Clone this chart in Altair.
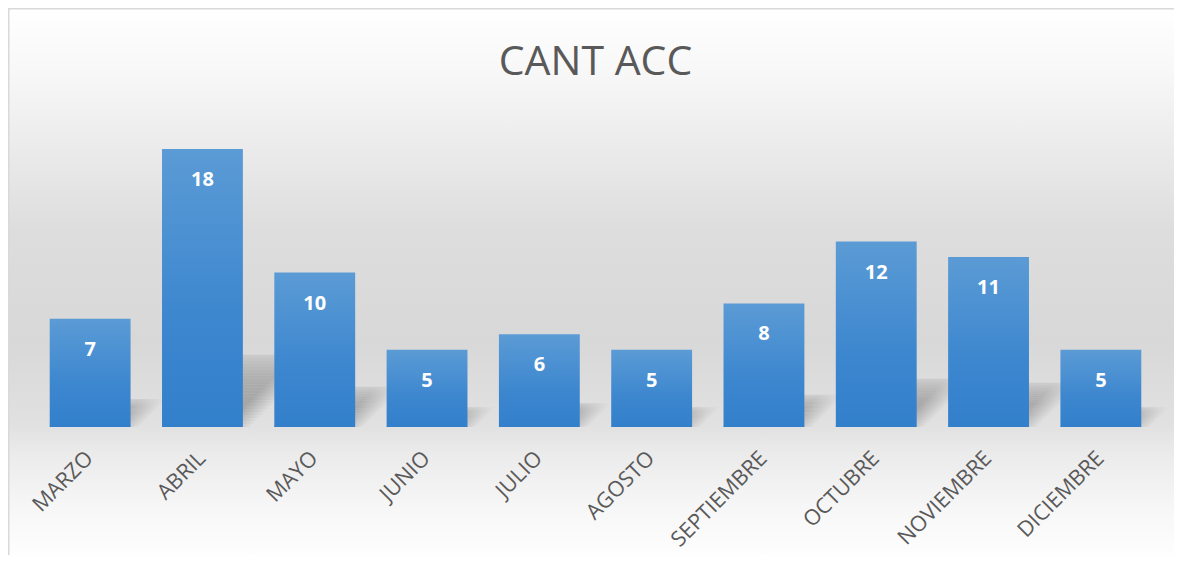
import altair as alt
import pandas as pd

months = ["MARZO", "ABRIL", "MAYO", "JUNIO", "JULIO", "AGOSTO",
          "SEPTIEMBRE", "OCTUBRE", "NOVIEMBRE", "DICIEMBRE"]
values = [7, 18, 10, 5, 6, 5, 8, 12, 11, 5]
title_text = ["CANT ACC"]
shadow_slices = list(range(24))

df = pd.DataFrame({"mes": months, "cant": values})
sh = pd.DataFrame(
    [(m, k, v, i) for k, (m, v) in enumerate(zip(months, values)) for i in shadow_slices],
    columns=["mes", "idx", "cant", "i"],
)

W, H = 1123, 309
L, T, R, B = 26, 110, 17, 128
YMAX = 20
NCAT = len(months)
PAD_IN, PAD_OUT = 0.28, 0.14
PX = H / YMAX          # pixels per unit
STEP = W / NCAT        # band step in pixels
K = 0.26               # shadow height as fraction of bar
NS = len(shadow_slices)

bg_grad = alt.Gradient(
    gradient="linear", x1=0, y1=0, x2=0, y2=1,
    stops=[
        alt.GradientStop(offset=0.0, color="#ffffff"),
        alt.GradientStop(offset=0.12, color="#f7f7f7"),
        alt.GradientStop(offset=0.25, color="#ebebeb"),
        alt.GradientStop(offset=0.40, color="#dddddd"),
        alt.GradientStop(offset=0.60, color="#d8d8d8"),
        alt.GradientStop(offset=0.75, color="#e1e1e1"),
        alt.GradientStop(offset=0.80, color="#ebebeb"),
        alt.GradientStop(offset=0.90, color="#f7f7f7"),
        alt.GradientStop(offset=1.0, color="#ffffff"),
    ],
)

bar_grad = alt.Gradient(
    gradient="linear", x1=0, y1=0, x2=0, y2=1,
    stops=[
        alt.GradientStop(offset=0.0, color="#5b9bd5"),
        alt.GradientStop(offset=0.6, color="#3d87cf"),
        alt.GradientStop(offset=1.0, color="#327fcb"),
    ],
)

shadow_grad = alt.Gradient(
    gradient="linear", x1=0, y1=0, x2=1, y2=0,
    stops=[
        alt.GradientStop(offset=0.0, color="rgba(95,95,95,1)"),
        alt.GradientStop(offset=0.70, color="rgba(95,95,95,1)"),
        alt.GradientStop(offset=1.0, color="rgba(95,95,95,0)"),
    ],
)

x_scale = alt.Scale(paddingInner=PAD_IN, paddingOuter=PAD_OUT)
y_scale = alt.Scale(domain=[0, YMAX])
x_axis = alt.Axis(
    title=None, labelAngle=-45, labelFont="Open Sans",
    labelFontSize=21.5, labelColor="#595959", labelPadding=28,
    labelBaseline="middle", labelOffset=0,
    domain=False, ticks=False, zindex=1, labelLimit=300,
)

bg = alt.Chart(pd.DataFrame({"k": [0]})).mark_rect(
    fill=bg_grad, stroke="#d9d9d9", strokeWidth=1.5
).encode(
    x=alt.value(-L + 0.75), x2=alt.value(W + R + 10),
    y=alt.value(-T + 0.75), y2=alt.value(H + B + 10),
)

title = alt.Chart(pd.DataFrame({"t": title_text})).mark_text(
    font="Open Sans", fontSize=41, color="#595959", align="center",
    baseline="alphabetic",
).encode(x=alt.value(W / 2), y=alt.value(-43), text="t:N")

# soft perspective shadow behind each bar, built from slices of the bar value
shadow = alt.Chart(sh).transform_calculate(
    t0=f"datum.i/{NS}", t1=f"(datum.i+1)/{NS}",
).transform_calculate(
    y0=f"datum.cant*{K}*datum.t0",
    y1=f"datum.cant*{K}*datum.t1",
    shu=f"datum.cant*{K}*datum.t0*{PX}/{STEP}",
    op="0.45*(1-0.8*pow(datum.t0,3))",
).transform_calculate(
    xa=f"datum.idx+{PAD_OUT}+datum.shu",
    xb=f"datum.idx+{PAD_OUT}+{1 - PAD_IN}+datum.shu+0.08",
).mark_bar(fill=shadow_grad).encode(
    x=alt.X("xa:Q", scale=alt.Scale(domain=[0, NCAT], nice=False, zero=False), axis=None),
    x2="xb:Q",
    y=alt.Y("y0:Q", scale=y_scale, axis=None),
    y2="y1:Q",
    opacity=alt.Opacity("op:Q", scale=None),
)

bars = alt.Chart(df).mark_bar(fill=bar_grad).encode(
    x=alt.X("mes:N", sort=months, scale=x_scale, axis=x_axis),
    y=alt.Y("cant:Q", scale=y_scale, axis=None),
)
labels = alt.Chart(df).mark_text(
    dy=31, baseline="middle", color="white", font="Open Sans",
    fontWeight="bold", fontSize=20,
).encode(
    x=alt.X("mes:N", sort=months, scale=x_scale, axis=None),
    y=alt.Y("cant:Q", scale=y_scale, axis=None),
    text="cant:Q",
)

chart = alt.layer(bg, title, shadow, bars, labels).resolve_scale(
    x="independent"
).properties(
    width=W, height=H,
    padding={"left": L, "top": T, "right": R, "bottom": B},
    autosize=alt.AutoSizeParams(type="none"),
).configure_view(stroke=None)

chart.save("out.html", embed_options={"renderer": "svg", "actions": False})
